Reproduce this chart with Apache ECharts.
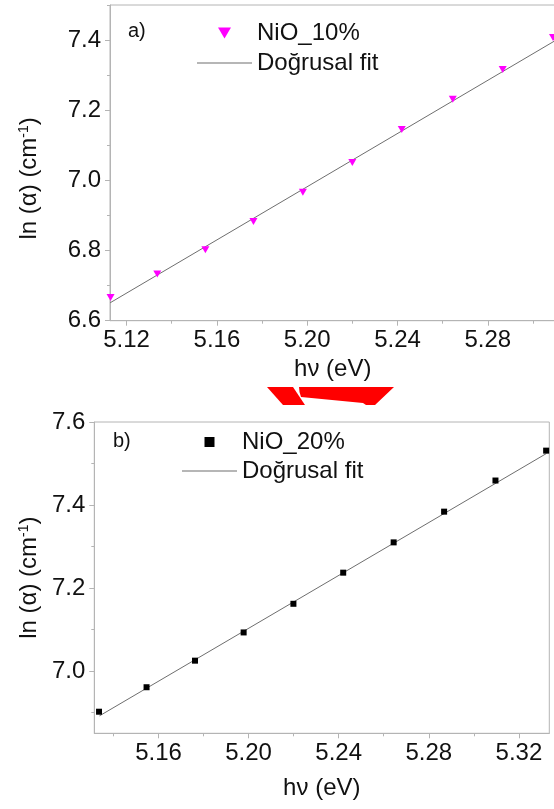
<!DOCTYPE html>
<html>
<head>
<meta charset="utf-8">
<script src="https://cdn.jsdelivr.net/npm/echarts@6/dist/echarts.min.js"></script>
<style>
html,body{margin:0;padding:0;background:#fff;}
#c{width:554px;height:809px;}
</style>
</head>
<body>
<div id="c"></div>
<script>
// ---- Panel a) NiO_10% ----
const xA = [5.1129, 5.1336, 5.1549, 5.1762, 5.1981, 5.2200, 5.2419, 5.2645, 5.2866, 5.3089];
const yA = [6.666, 6.733, 6.802, 6.883, 6.966, 7.051, 7.145, 7.231, 7.316, 7.407];
const fitAx = [5.1127, 5.3100];
const fitAy = [6.651, 7.399];
const xTicksA = [5.12, 5.16, 5.20, 5.24, 5.28];
const xMinorA = [5.14, 5.18, 5.22, 5.26, 5.30];
const yTicksA = [6.6, 6.8, 7.0, 7.2, 7.4];
const yMinorA = [6.7, 6.9, 7.1, 7.3, 7.5];

// ---- Panel b) NiO_20% ----
const xB = [5.1336, 5.1547, 5.1762, 5.1978, 5.2199, 5.2420, 5.2644, 5.2868, 5.3096, 5.3321];
const yB = [6.902, 6.961, 7.025, 7.093, 7.162, 7.237, 7.310, 7.384, 7.459, 7.531];
const fitBx = [5.1338, 5.3322];
const fitBy = [6.892, 7.524];
const xTicksB = [5.16, 5.20, 5.24, 5.28, 5.32];
const xMinorB = [5.14, 5.18, 5.22, 5.26, 5.30];
const yTicksB = [7.0, 7.2, 7.4, 7.6];
const yMinorB = [6.9, 7.1, 7.3, 7.5];

const seriesNames = ['NiO_10%', 'NiO_20%', 'Doğrusal fit'];
const panelLabels = ['a)', 'b)'];
const xName = 'hν (eV)';
const yName = '{n|ln (α) (cm}{s|-1}{n|)}';

const FONT = '"Liberation Sans", Arial, sans-serif';
const AX = '#b4b4b4';
const LINE_ICON = 'path://M0,0H55V1H0Z';

function pairs(xs, ys){ return xs.map((x,i)=>[x, ys[i]]); }

function majorX(grid, min, max, ticks, gap){
  return {
    type:'value', gridIndex:grid, min:min, max:max, position:'bottom',
    axisLine:{show:true, lineStyle:{color:AX, width:1}},
    axisTick:{show:true, length:5, customValues:ticks, lineStyle:{color:AX}},
    axisLabel:{show:true, customValues:ticks, margin:8, fontSize:24, fontFamily:FONT, color:'#111',
      formatter:v=>v.toFixed(2)},
    splitLine:{show:false},
    name:xName, nameLocation:'middle', nameGap:gap,
    nameTextStyle:{fontSize:24, fontFamily:FONT, color:'#111'}
  };
}
function minorX(grid, min, max, ticks){
  return {
    type:'value', gridIndex:grid, min:min, max:max, position:'bottom',
    axisLine:{show:false}, axisLabel:{show:false}, splitLine:{show:false},
    axisTick:{show:true, length:3, customValues:ticks, lineStyle:{color:AX}}
  };
}
function majorY(grid, min, max, ticks, gap, pad){
  return {
    type:'value', gridIndex:grid, min:min, max:max, position:'left',
    axisLine:{show:true, lineStyle:{color:AX, width:1}},
    axisTick:{show:true, length:5, customValues:ticks, lineStyle:{color:AX}},
    axisLabel:{show:true, customValues:ticks, margin:9, fontSize:24, fontFamily:FONT, color:'#111',
      formatter:v=>v.toFixed(1)},
    splitLine:{show:false},
    name:yName, nameLocation:'middle', nameGap:gap,
    nameTextStyle:{fontSize:24, fontFamily:FONT, color:'#111', padding:pad,
      rich:{n:{fontSize:24, fontFamily:FONT, color:'#111'},
            s:{fontSize:14, fontFamily:FONT, color:'#111', verticalAlign:'top', lineHeight:14}}}
  };
}
function minorY(grid, min, max, ticks){
  return {
    type:'value', gridIndex:grid, min:min, max:max, position:'left',
    axisLine:{show:false}, axisLabel:{show:false}, splitLine:{show:false},
    axisTick:{show:true, length:3, customValues:ticks, lineStyle:{color:AX}}
  };
}

const chart = echarts.init(document.getElementById('c'), null, {renderer:'canvas'});
chart.setOption({
  animation:false,
  backgroundColor:'#fff',
  textStyle:{fontFamily:FONT},
  grid:[
    {left:110, top:5, width:445.5, height:315.7, show:true, borderColor:AX, borderWidth:1, containLabel:false, outerBoundsMode:'none'},
    {left:94.3, top:422, width:455, height:311.3, show:true, borderColor:AX, borderWidth:1, containLabel:false, outerBoundsMode:'none'}
  ],
  xAxis:[
    majorX(0, 5.11265, 5.31, xTicksA, 37),
    minorX(0, 5.11265, 5.31, xMinorA),
    majorX(1, 5.1315, 5.3335, xTicksB, 43),
    minorX(1, 5.1315, 5.3335, xMinorB)
  ],
  yAxis:[
    majorY(0, 6.6, 7.5, yTicksA, 69, [0,31,0,0]),
    minorY(0, 6.6, 7.5, yMinorA),
    majorY(1, 6.85, 7.6, yTicksB, 43, [0,0,0,0]),
    minorY(1, 6.85, 7.6, yMinorB)
  ],
  legend:[
    {left:197, top:21, orient:'vertical', padding:0, itemWidth:55, itemHeight:11, itemGap:6,
     selectedMode:false, textStyle:{fontSize:24, fontFamily:FONT, color:'#111', lineHeight:24},
     data:[{name:seriesNames[0], icon:'path://M0,0L13,0L6.5,11Z'}, {name:seriesNames[2], icon:LINE_ICON}]},
    {left:182, top:430, orient:'vertical', padding:0, itemWidth:55, itemHeight:10, itemGap:5,
     selectedMode:false, textStyle:{fontSize:24, fontFamily:FONT, color:'#111', lineHeight:24},
     data:[{name:seriesNames[1], icon:'path://M0,0H10V10H0Z'}, {name:seriesNames[2], icon:LINE_ICON}]}
  ],
  graphic:[
    {type:'text', left:128, top:21, style:{text:panelLabels[0], fontSize:20, fontFamily:FONT, fill:'#111'}},
    {type:'text', left:113, top:431, style:{text:panelLabels[1], fontSize:20, fontFamily:FONT, fill:'#111'}},
    {type:'polygon', shape:{points:[[267,387],[293,387],[305,405],[283,405]]}, style:{fill:'#ff0000'}},
    {type:'polygon', shape:{points:[[299,387],[394,387],[375,405],[366,405],[363,403],[301,397],[299.5,392]]}, style:{fill:'#ff0000'}}
  ],
  series:[
    {name:seriesNames[2], type:'line', xAxisIndex:0, yAxisIndex:0, data:pairs(fitAx, fitAy),
     symbol:'none', lineStyle:{color:'#6e6e6e', width:1}, itemStyle:{color:'#6e6e6e'}, z:2, silent:true},
    {name:seriesNames[0], type:'scatter', xAxisIndex:0, yAxisIndex:0, data:pairs(xA, yA),
     symbol:'triangle', symbolRotate:180, symbolSize:[8,7], itemStyle:{color:'#ff00ff', opacity:1}, z:3, silent:true},
    {name:seriesNames[2], type:'line', xAxisIndex:2, yAxisIndex:2, data:pairs(fitBx, fitBy),
     symbol:'none', lineStyle:{color:'#6e6e6e', width:1}, itemStyle:{color:'#6e6e6e'}, z:2, silent:true},
    {name:seriesNames[1], type:'scatter', xAxisIndex:2, yAxisIndex:2, data:pairs(xB, yB),
     symbol:'rect', symbolSize:6, itemStyle:{color:'#000', opacity:1}, z:3, silent:true}
  ]
});
</script>
</body>
</html>
